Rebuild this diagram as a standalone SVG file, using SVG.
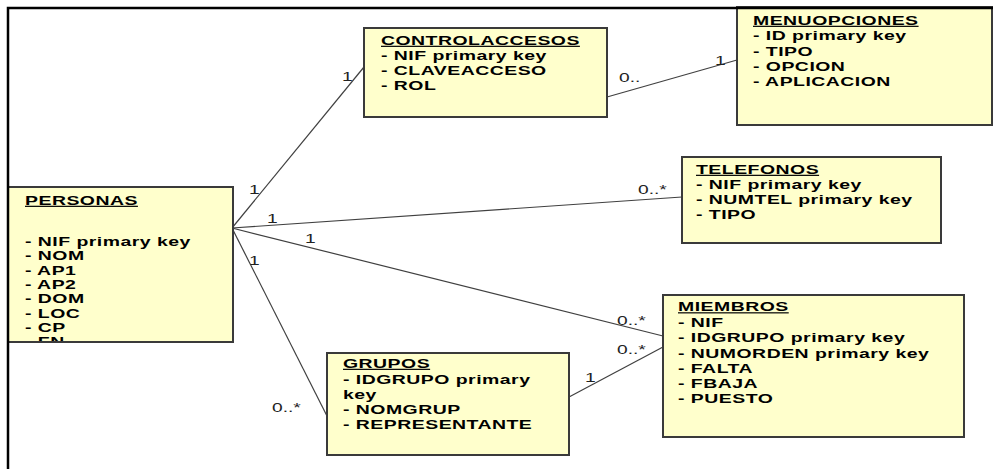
<svg xmlns="http://www.w3.org/2000/svg" width="998" height="469" viewBox="0 0 998 469">
  <style>
    .box { fill: #ffffcc; stroke: #3a3a3a; stroke-width: 2; }
    .attr { font-family: "Liberation Sans", Arial, sans-serif; font-weight: bold; font-size: 12px; letter-spacing: 0.3px; fill: #000; }
    .title { text-decoration: underline; }
    .conn line { stroke: #404040; stroke-width: 1.2; }
    .mult { font-family: "Liberation Sans", Arial, sans-serif; font-size: 12px; fill: #222; }
  </style>
  <defs>
    <clipPath id="clip-personas"><rect x="9" y="188" width="223" height="153"/></clipPath>
  </defs>
  <rect width="998" height="469" fill="#fff"/>

  <!-- connectors -->
  <g id="connectors" class="conn">
    <line x1="232" y1="228" x2="364" y2="67"/>
    <line x1="232" y1="228" x2="682" y2="197"/>
    <line x1="232" y1="228" x2="663" y2="336"/>
    <line x1="232" y1="228" x2="327" y2="416"/>
    <line x1="607" y1="97" x2="737" y2="60"/>
    <line x1="569" y1="397" x2="663" y2="347"/>
  </g>

  <!-- multiplicities -->
  <g id="multiplicities" class="mult">
    <text transform="translate(249,194) scale(1.6,1)">1</text>
    <text transform="translate(342,81) scale(1.6,1)">1</text>
    <text transform="translate(267,223) scale(1.6,1)">1</text>
    <text transform="translate(638,194) scale(1.6,1)">0..*</text>
    <text transform="translate(305,243) scale(1.6,1)">1</text>
    <text transform="translate(617,325) scale(1.6,1)">0..*</text>
    <text transform="translate(249,265) scale(1.6,1)">1</text>
    <text transform="translate(272,412) scale(1.6,1)">0..*</text>
    <text transform="translate(585,382) scale(1.6,1)">1</text>
    <text transform="translate(617,354) scale(1.6,1)">0..*</text>
    <text transform="translate(619,82) scale(1.6,1)">0..</text>
    <text transform="translate(715,65) scale(1.6,1)">1</text>
  </g>

  <g id="personas">
    <rect class="box" x="8" y="187" width="225" height="155"/>
    <g clip-path="url(#clip-personas)">
      <g class="attr" transform="translate(25,0) scale(1.62,1)">
        <text class="title" y="205">PERSONAS</text>
        <text y="246">- NIF primary key</text>
        <text y="260.5">- NOM</text>
        <text y="275">- AP1</text>
        <text y="289">- AP2</text>
        <text y="303.5">- DOM</text>
        <text y="318">- LOC</text>
        <text y="332">- CP</text>
        <text y="346.5">- FN</text>
      </g>
    </g>
  </g>

  <g id="controlaccesos">
    <rect class="box" x="364" y="28" width="243" height="89"/>
    <g class="attr" transform="translate(381,0) scale(1.62,1)">
      <text class="title" y="45">CONTROLACCESOS</text>
      <text y="60.5">- NIF primary key</text>
      <text y="75.5">- CLAVEACCESO</text>
      <text y="90.5">- ROL</text>
    </g>
  </g>

  <g id="menuopciones">
    <rect class="box" x="737" y="7" width="255" height="118"/>
    <g class="attr" transform="translate(753,0) scale(1.62,1)">
      <text class="title" y="25">MENUOPCIONES</text>
      <text y="40.5">- ID primary key</text>
      <text y="56">- TIPO</text>
      <text y="71">- OPCION</text>
      <text y="86.5">- APLICACION</text>
    </g>
  </g>

  <g id="telefonos">
    <rect class="box" x="682" y="157" width="259" height="86"/>
    <g class="attr" transform="translate(696,0) scale(1.62,1)">
      <text class="title" y="174">TELEFONOS</text>
      <text y="189">- NIF primary key</text>
      <text y="204.5">- NUMTEL primary key</text>
      <text y="219">- TIPO</text>
    </g>
  </g>

  <g id="miembros">
    <rect class="box" x="663" y="295" width="301" height="142"/>
    <g class="attr" transform="translate(678,0) scale(1.62,1)">
      <text class="title" y="311.5">MIEMBROS</text>
      <text y="327">- NIF</text>
      <text y="342.5">- IDGRUPO primary key</text>
      <text y="358">- NUMORDEN primary key</text>
      <text y="373">- FALTA</text>
      <text y="388">- FBAJA</text>
      <text y="403.5">- PUESTO</text>
    </g>
  </g>

  <g id="grupos">
    <rect class="box" x="327" y="353" width="242" height="102"/>
    <g class="attr" transform="translate(343,0) scale(1.62,1)">
      <text class="title" y="368">GRUPOS</text>
      <text y="384.5">- IDGRUPO primary</text>
      <text y="399.5">key</text>
      <text y="414.5">- NOMGRUP</text>
      <text y="429.5">- REPRESENTANTE</text>
    </g>
  </g>

  <!-- page frame -->
  <g id="frame" fill="none" stroke="#000" stroke-width="2.5">
    <polyline points="8,469 8,8 993,8"/>
  </g>
</svg>
